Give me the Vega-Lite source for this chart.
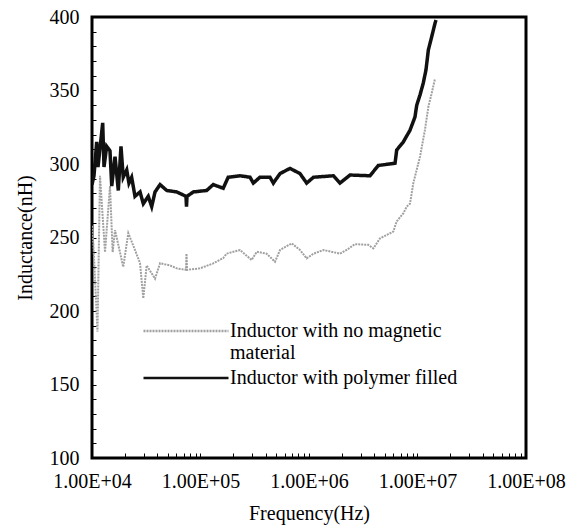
{
  "$schema": "https://vega.github.io/schema/vega-lite/v6.json",
  "width": 434,
  "height": 441,
  "autosize": {"type": "none"},
  "padding": {"left": 92, "top": 17, "right": 41, "bottom": 68},
  "background": "white",
  "config": {
    "view": {"stroke": "black", "strokeWidth": 3},
    "font": "Liberation Serif"
  },
  "datasets": {
    "poly": [
      {"f": 10000, "L": 286}, {"f": 10430, "L": 292}, {"f": 11050, "L": 315}, {"f": 11360, "L": 298},
      {"f": 12550, "L": 328}, {"f": 12900, "L": 298}, {"f": 13660, "L": 312}, {"f": 14650, "L": 309},
      {"f": 15200, "L": 285}, {"f": 16300, "L": 305}, {"f": 17470, "L": 282}, {"f": 18500, "L": 312},
      {"f": 19400, "L": 291}, {"f": 20900, "L": 296}, {"f": 21900, "L": 287}, {"f": 23200, "L": 291},
      {"f": 24900, "L": 278}, {"f": 27700, "L": 281}, {"f": 29700, "L": 273}, {"f": 33000, "L": 278},
      {"f": 35500, "L": 271}, {"f": 38100, "L": 281}, {"f": 42400, "L": 286}, {"f": 48800, "L": 282},
      {"f": 60400, "L": 281}, {"f": 73500, "L": 278}, {"f": 74300, "L": 271}, {"f": 75100, "L": 278},
      {"f": 85900, "L": 281}, {"f": 114000, "L": 282}, {"f": 131000, "L": 286}, {"f": 162000, "L": 283.5},
      {"f": 180000, "L": 291}, {"f": 231000, "L": 292}, {"f": 286000, "L": 291}, {"f": 307000, "L": 287},
      {"f": 353000, "L": 291}, {"f": 437000, "L": 291}, {"f": 469000, "L": 287}, {"f": 541000, "L": 293.5},
      {"f": 668000, "L": 297}, {"f": 826000, "L": 293.5}, {"f": 952000, "L": 287}, {"f": 1100000, "L": 291},
      {"f": 1680000, "L": 292}, {"f": 1930000, "L": 287}, {"f": 2390000, "L": 292.5}, {"f": 3650000, "L": 292},
      {"f": 4350000, "L": 299}, {"f": 6210000, "L": 300.5}, {"f": 6430000, "L": 309.5}, {"f": 7400000, "L": 315},
      {"f": 8530000, "L": 323}, {"f": 9480000, "L": 332}, {"f": 9840000, "L": 340}, {"f": 10550000, "L": 347},
      {"f": 11300000, "L": 355}, {"f": 11970000, "L": 364}, {"f": 12590000, "L": 377.6}, {"f": 13520000, "L": 386.6},
      {"f": 14500000, "L": 395.7}, {"f": 14800000, "L": 398}
    ],
    "nomag": [
      {"f": 10000, "L": 258}, {"f": 10300, "L": 245}, {"f": 11240, "L": 186}, {"f": 11850, "L": 292},
      {"f": 13180, "L": 240}, {"f": 14650, "L": 285}, {"f": 15500, "L": 240}, {"f": 16300, "L": 255},
      {"f": 18100, "L": 240}, {"f": 19400, "L": 230}, {"f": 21600, "L": 253}, {"f": 24900, "L": 241.5},
      {"f": 27700, "L": 232.6}, {"f": 29700, "L": 208.6}, {"f": 31900, "L": 231}, {"f": 38100, "L": 222},
      {"f": 42400, "L": 232.5}, {"f": 52400, "L": 231}, {"f": 60400, "L": 229}, {"f": 73500, "L": 228},
      {"f": 74300, "L": 239}, {"f": 75100, "L": 228}, {"f": 98900, "L": 229}, {"f": 131000, "L": 232.4},
      {"f": 162000, "L": 236}, {"f": 174000, "L": 239}, {"f": 231000, "L": 241.5}, {"f": 296000, "L": 234.7},
      {"f": 330000, "L": 240.3}, {"f": 407000, "L": 239}, {"f": 486000, "L": 233.5}, {"f": 541000, "L": 241.5},
      {"f": 693000, "L": 246}, {"f": 826000, "L": 241.5}, {"f": 952000, "L": 235.8}, {"f": 1100000, "L": 239},
      {"f": 1360000, "L": 241.5}, {"f": 1930000, "L": 239}, {"f": 2220000, "L": 241.5}, {"f": 2650000, "L": 245.5},
      {"f": 3520000, "L": 245}, {"f": 3920000, "L": 242.6}, {"f": 4510000, "L": 249.4}, {"f": 5980000, "L": 254},
      {"f": 6430000, "L": 261}, {"f": 7400000, "L": 266.4}, {"f": 7950000, "L": 271}, {"f": 8530000, "L": 273},
      {"f": 9150000, "L": 287}, {"f": 10550000, "L": 305}, {"f": 11700000, "L": 323}, {"f": 12600000, "L": 339},
      {"f": 13500000, "L": 348}, {"f": 14500000, "L": 358}
    ]
  },
  "layer": [
    {
      "data": {"name": "nomag"},
      "transform": [{"calculate": "'Inductor with no magnetic material'", "as": "s"}],
      "mark": {"type": "line", "strokeWidth": 2, "clip": true}
    },
    {
      "data": {"name": "poly"},
      "transform": [{"calculate": "'Inductor with polymer filled'", "as": "s"}],
      "mark": {"type": "line", "strokeWidth": 3.5, "clip": true}
    }
  ],
  "encoding": {
    "x": {
      "field": "f", "type": "quantitative",
      "scale": {"type": "log", "domain": [10000, 100000000]},
      "axis": {
        "values": [10000, 20000, 30000, 40000, 50000, 60000, 70000, 80000, 90000,
                   100000, 200000, 300000, 400000, 500000, 600000, 700000, 800000, 900000,
                   1000000, 2000000, 3000000, 4000000, 5000000, 6000000, 7000000, 8000000, 9000000,
                   10000000, 20000000, 30000000, 40000000, 50000000, 60000000, 70000000, 80000000, 90000000, 100000000],
        "labelExpr": "datum.value == 10000 ? '1.00E+04' : datum.value == 100000 ? '1.00E+05' : datum.value == 1000000 ? '1.00E+06' : datum.value == 10000000 ? '1.00E+07' : datum.value == 100000000 ? '1.00E+08' : ''",
        "tickSize": -5, "tickColor": "black", "tickWidth": 1,
        "domain": false, "grid": false,
        "labelFont": "Liberation Serif", "labelFontSize": 20, "labelColor": "black",
        "labelPadding": 18, "labelOverlap": false, "labelFlush": false, "labelBound": false,
        "title": "Frequency(Hz)", "titleFont": "Liberation Serif", "titleFontSize": 20,
        "titleFontWeight": "normal", "titleColor": "black", "titlePadding": 12
      }
    },
    "y": {
      "field": "L", "type": "quantitative",
      "scale": {"domain": [100, 400], "nice": false, "zero": false},
      "axis": {
        "values": [100, 110, 120, 130, 140, 150, 160, 170, 180, 190, 200, 210, 220, 230, 240, 250, 260, 270, 280, 290, 300, 310, 320, 330, 340, 350, 360, 370, 380, 390, 400],
        "labelExpr": "datum.value % 50 == 0 ? datum.label : ''",
        "tickSize": -4, "tickColor": "black", "tickWidth": 1,
        "domain": false, "grid": false,
        "labelFont": "Liberation Serif", "labelFontSize": 20, "labelColor": "black",
        "labelPadding": 17, "labelOverlap": false, "labelFlush": false, "labelBound": false,
        "title": "Inductance(nH)", "titleFont": "Liberation Serif", "titleFontSize": 20,
        "titleFontWeight": "normal", "titleColor": "black", "titlePadding": 14
      }
    },
    "color": {
      "field": "s", "type": "nominal",
      "scale": {"domain": ["Inductor with no magnetic material", "Inductor with polymer filled"], "range": ["#a0a0a0", "#111111"]},
      "legend": {
        "orient": "none", "legendX": 82, "legendY": 302, "title": null, "padding": 0,
        "symbolType": "M-4,0H4", "symbolSize": 451.5, "symbolStrokeWidth": 2.5,
        "labelFont": "Liberation Serif", "labelFontSize": 20, "labelColor": "black",
        "labelOffset": 32, "labelLimit": 0, "rowPadding": 3,
        "labelExpr": "datum.label == 'Inductor with no magnetic material' ? ['Inductor with no magnetic', 'material'] : datum.label"
      }
    },
    "strokeDash": {
      "field": "s", "type": "nominal",
      "scale": {"domain": ["Inductor with no magnetic material", "Inductor with polymer filled"], "range": [[2, 1], [1, 0]]}
    }
  }
}
